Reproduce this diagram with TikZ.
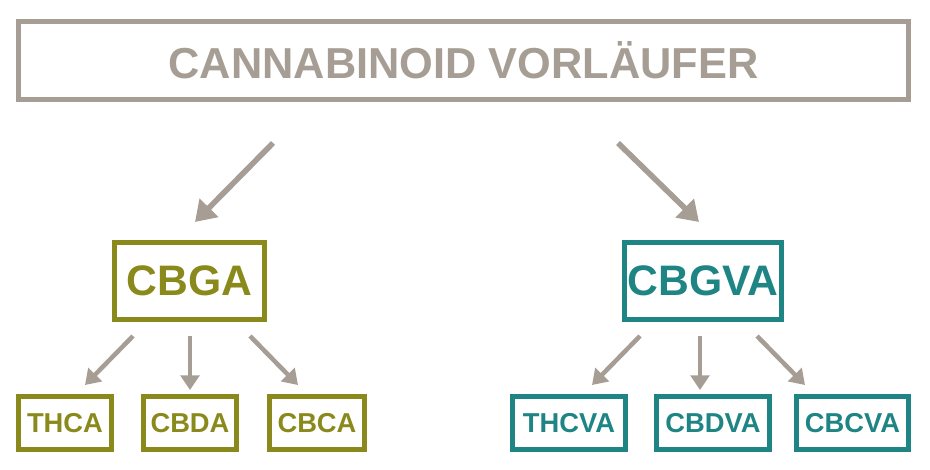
\documentclass[tikz,border=0pt]{standalone}
\usepackage{fontspec}
\setmainfont{Liberation Sans}
\usetikzlibrary{arrows.meta}
\definecolor{cgray}{HTML}{A69E94}
\definecolor{colive}{HTML}{8A8A1C}
\definecolor{cteal}{HTML}{1F8484}
\begin{document}
\begin{tikzpicture}[x=0.75pt,y=-0.75pt,
  box/.style={draw,line width=3.4pt,inner sep=0pt,font=\bfseries},
  arr/.style={draw=cgray,line width=4.2pt,-{Triangle[length=15pt,width=19pt]}}]
\useasboundingbox (0,0) rectangle (930,470);
\node[box,draw=cgray,text=cgray,minimum width=667.5pt,minimum height=58.5pt,font=\bfseries\fontsize{32.5}{32.5}\selectfont] (top) at (463.5,60.5) {CANNABINOID VORLÄUFER};
\node[box,draw=colive,text=colive,minimum width=112.5pt,minimum height=57.75pt,font=\bfseries\fontsize{32}{32}\selectfont] (cbga) at (189.5,281) {CBGA};
\node[box,draw=cteal,text=cteal,minimum width=117.75pt,minimum height=57.75pt,font=\bfseries\fontsize{32}{32}\selectfont] (cbgva) at (703,281) {CBGVA};
\tikzset{sm/.style={box,minimum height=39.75pt,font=\bfseries\fontsize{20.5}{20.5}\selectfont}}
\node[sm,draw=colive,text=colive,minimum width=69.75pt] (thca) at (65,423) {THCA};
\node[sm,draw=colive,text=colive,minimum width=69.75pt] (cbda) at (190,423) {CBDA};
\node[sm,draw=colive,text=colive,minimum width=71.25pt] (cbca) at (317,423) {CBCA};
\node[sm,draw=cteal,text=cteal,minimum width=84.75pt] (thcva) at (569,423) {THCVA};
\node[sm,draw=cteal,text=cteal,minimum width=84.75pt] (cbdva) at (713,423) {CBDVA};
\node[sm,draw=cteal,text=cteal,minimum width=84pt] (cbcva) at (852.5,423) {CBCVA};
\coordinate (a1) at (273,143); \coordinate (a1e) at (195,222);
\coordinate (a2) at (618,143); \coordinate (a2e) at (699,222);
\draw[arr] (a1) -- (a1e);
\draw[arr] (a2) -- (a2e);
\coordinate (s1) at (133,336); \coordinate (s1e) at (85,385);
\coordinate (s2) at (190,336); \coordinate (s2e) at (190,390);
\coordinate (s3) at (250,336); \coordinate (s3e) at (298,385);
\coordinate (t1) at (640,336); \coordinate (t1e) at (592,385);
\coordinate (t2) at (700,336); \coordinate (t2e) at (700,390);
\coordinate (t3) at (757,336); \coordinate (t3e) at (805,385);
\tikzset{sarr/.style={draw=cgray,line width=3.4pt,-{Triangle[length=11pt,width=14pt]}}}
\foreach \a in {s1,s2,s3,t1,t2,t3} \draw[sarr] (\a) -- (\a e);
\end{tikzpicture}
\end{document}
